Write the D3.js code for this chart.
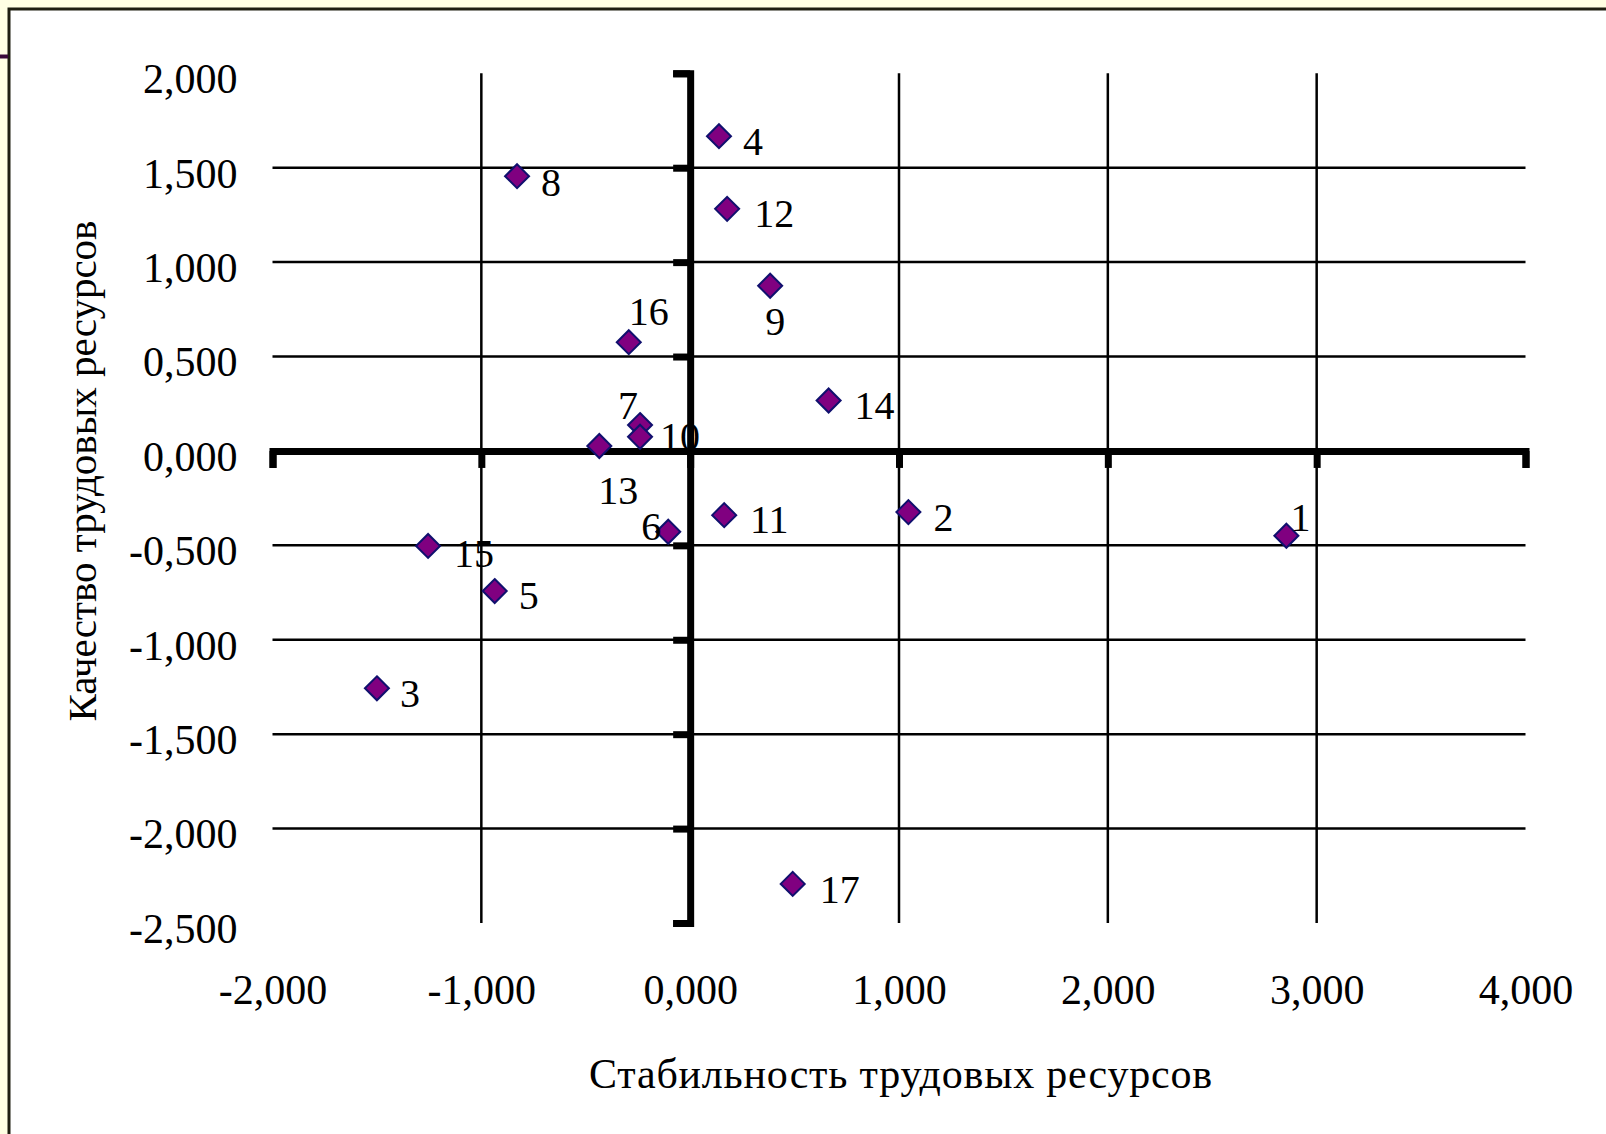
<!DOCTYPE html>
<html>
<head>
<meta charset="utf-8">
<script src="https://cdn.jsdelivr.net/npm/d3@7"></script>
<style>
  body { margin: 0; background: #ffffe3; }
  text { font-family: "Liberation Serif", "Times New Roman", serif; fill: #000; }
</style>
</head>
<body>
<script>
// point numbers and their coordinates
var pointIds = [1, 2, 3, 4, 5, 6, 7, 8, 9, 10, 11, 12, 13, 14, 15, 16, 17];
var stability = [2.855, 1.045, -1.500, 0.138, -0.936, -0.105, -0.240, -0.829, 0.383, -0.240, 0.163, 0.177, -0.435, 0.663, -1.255, -0.294, 0.491];
var quality = [-0.449, -0.324, -1.257, 1.667, -0.742, -0.428, 0.137, 1.455, 0.875, 0.075, -0.340, 1.282, 0.026, 0.267, -0.503, 0.576, -2.293];

var xTicks = [-2, -1, 0, 1, 2, 3, 4];
var yTicks = [2, 1.5, 1, 0.5, 0, -0.5, -1, -1.5, -2, -2.5];

var xTitle = "Стабильность трудовых ресурсов";
var yTitle = "Качество трудовых ресурсов";

// where each number sits relative to its marker (text centre)
var labelOffsets = [[14, -18], [35, 5], [33, 5], [34, 5], [34, 4], [-17, -5], [-12, -20], [34, 6], [5, 36],
  [40, 0], [45, 4], [47, 5], [19, 44], [46, 5], [46, 7], [20, -31], [47, 5]];

var svgWidth = 1606;
var svgHeight = 1134;

var svg = d3.select("body").append("svg")
  .attr("width", svgWidth)
  .attr("height", svgHeight);

// slide background + white panel
svg.append("rect")
  .attr("x", 0).attr("y", 0)
  .attr("width", svgWidth).attr("height", svgHeight)
  .attr("fill", "#ffffe3");
svg.append("rect")
  .attr("x", 9).attr("y", 9)
  .attr("width", svgWidth + 10).attr("height", svgHeight + 10)
  .attr("fill", "#fff")
  .attr("stroke", "#1e1e10")
  .attr("stroke-width", 3);
svg.append("line")
  .attr("x1", 0).attr("x2", 8)
  .attr("y1", 56.5).attr("y2", 56.5)
  .attr("stroke", "#3a0a3a")
  .attr("stroke-width", 4);

var x = d3.scaleLinear().domain([-2, 4]).range([272.5, 1525.5]);
var y = d3.scaleLinear().domain([-2.5, 2]).range([923, 73.3]);

var loc = d3.formatLocale({ decimal: ",", thousands: " ", grouping: [3], currency: ["", ""], minus: "-" });
var fmt = loc.format(".3f");

// gridlines
svg.append("g").selectAll("line.hg")
  .data(yTicks.filter(d => d !== 0 && d !== 2 && d !== -2.5))
  .enter().append("line")
  .attr("x1", x(-2)).attr("x2", x(4))
  .attr("y1", d => y(d)).attr("y2", d => y(d))
  .attr("stroke", "#000")
  .attr("stroke-width", 2.5);

svg.append("g").selectAll("line.vg")
  .data(xTicks.filter(d => d !== 0 && d !== -2 && d !== 4))
  .enter().append("line")
  .attr("x1", d => x(d)).attr("x2", d => x(d))
  .attr("y1", y(2)).attr("y2", y(-2.5))
  .attr("stroke", "#000")
  .attr("stroke-width", 2.5);

// thick axes crossing at zero
var xAxis = svg.append("g")
  .attr("transform", `translate(0, ${y(0)})`)
  .call(d3.axisBottom(x).tickValues(xTicks).tickSize(17).tickFormat(""));
var yAxis = svg.append("g")
  .attr("transform", `translate(${x(0)}, 0)`)
  .call(d3.axisLeft(y).tickValues(yTicks).tickSize(17).tickFormat(""));

[xAxis, yAxis].forEach(function(a) {
  a.selectAll("path, line")
    .attr("stroke", "#000")
    .attr("stroke-width", 7)
    .attr("stroke-linejoin", "miter")
    .attr("fill", "none");
});

// tick labels at the low ends of the plot
var xLabels = svg.append("g")
  .attr("transform", `translate(0, ${y(-2.5)})`)
  .call(d3.axisBottom(x).tickValues(xTicks).tickSize(0).tickPadding(51).tickFormat(fmt));
var yLabels = svg.append("g")
  .attr("transform", `translate(${x(-2)}, 0)`)
  .call(d3.axisLeft(y).tickValues(yTicks).tickSize(0).tickPadding(35).tickFormat(fmt));

[xLabels, yLabels].forEach(function(a) {
  a.select(".domain").remove();
  a.selectAll("text")
    .attr("font-family", "Liberation Serif, Times New Roman, serif")
    .attr("font-size", 42)
    .attr("fill", "#000");
});
yLabels.selectAll("text").attr("dy", "0.46em");

// axis titles
svg.append("text")
  .attr("x", 901)
  .attr("y", 1088)
  .attr("text-anchor", "middle")
  .attr("font-size", 42)
  .attr("letter-spacing", 0.8)
  .text(xTitle);

svg.append("text")
  .attr("transform", "translate(96, 471) rotate(-90)")
  .attr("text-anchor", "middle")
  .attr("font-size", 41)
  .text(yTitle);

// diamond markers
var points = pointIds.map((id, i) => ({ id: id, sx: stability[i], q: quality[i], off: labelOffsets[i] }));

svg.append("g").selectAll("path")
  .data(points)
  .enter().append("path")
  .attr("transform", d => `translate(${x(d.sx)}, ${y(d.q)})`)
  .attr("d", "M0,-12L12,0L0,12L-12,0Z")
  .attr("fill", "#800080")
  .attr("stroke", "#10106e")
  .attr("stroke-width", 2);

svg.append("g").selectAll("text")
  .data(points)
  .enter().append("text")
  .attr("x", d => x(d.sx) + d.off[0])
  .attr("y", d => y(d.q) + d.off[1])
  .attr("text-anchor", "middle")
  .attr("dy", "0.34em")
  .attr("font-size", 40)
  .text(d => d.id);
</script>
</body>
</html>
